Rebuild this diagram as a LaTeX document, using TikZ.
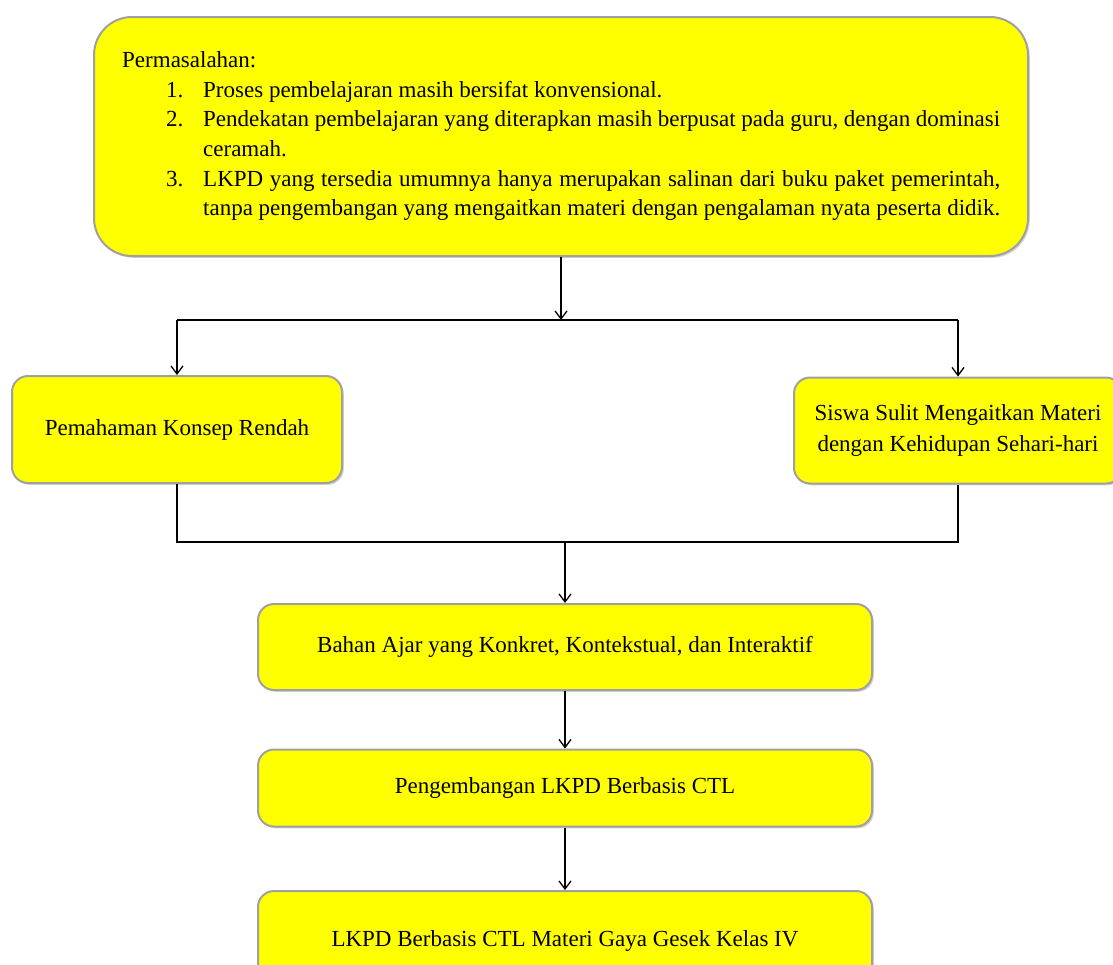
\documentclass[tikz,border=0pt]{standalone}
\usepackage{fontspec}
\setmainfont{Liberation Serif}
\usetikzlibrary{arrows.meta,shadows}
\definecolor{boxyellow}{HTML}{FFFF00}
\definecolor{boxgray}{HTML}{A0A0A0}
\begin{document}
\begin{tikzpicture}[x=1pt,y=-1pt,
  box/.style={draw=boxgray, line width=2pt, fill=boxyellow, rounded corners=16pt,
    drop shadow={shadow xshift=1.8pt, shadow yshift=-1.8pt, opacity=0.35},
    font=\fontsize{23}{31}\selectfont, align=center, inner sep=0pt, rectangle},
  txt/.style={anchor=base west, inner sep=0pt, font=\fontsize{23}{30}\selectfont},
  conn/.style={draw=black, line width=1.4pt},
  arr/.style={conn, -{Straight Barb[length=8pt, width=12pt, line width=1.3pt]}},
]
\useasboundingbox (0,0) rectangle (1113,964);
\clip (0,0) rectangle (1113,964);

% boxes
\node[box, rounded corners=38pt, minimum width=934pt, minimum height=239pt] (top) at (561,136.5) {};
\node[box, minimum width=330pt, minimum height=107pt] (left) at (177,429.5) {Pemahaman Konsep Rendah};
\node[box, minimum width=328pt, minimum height=106pt] (right) at (958,430.5) {Siswa Sulit Mengaitkan Materi\\dengan Kehidupan Sehari-hari};
\node[box, minimum width=614pt, minimum height=86pt] (bahan) at (565,647) {Bahan Ajar yang Konkret, Kontekstual, dan Interaktif};
\node[box, minimum width=614pt, minimum height=77pt] (pengembangan) at (565,788) {Pengembangan LKPD Berbasis CTL};
\node[box, minimum width=614pt, minimum height=100pt] (lkpd) at (565,941) {LKPD Berbasis CTL Materi Gaya Gesek Kelas IV};

% top box text
\node[txt] (t0) at (122,67) {Permasalahan:};
\node[txt] (n1) at (166,97) {1.};
\node[txt] (l1) at (203,97) {Proses pembelajaran masih bersifat konvensional.};
\node[txt] (n2) at (166,126) {2.};
\node[txt] (l2) at (203,126) {\makebox[797pt][s]{Pendekatan pembelajaran yang diterapkan masih berpusat pada guru, dengan dominasi}};
\node[txt] (l2b) at (203,156) {ceramah.};
\node[txt] (n3) at (166,186) {3.};
\node[txt] (l3) at (203,186) {\makebox[797pt][s]{LKPD yang tersedia umumnya hanya merupakan salinan dari buku paket pemerintah,}};
\node[txt] (l3b) at (203,215) {\makebox[797pt][s]{tanpa pengembangan yang mengaitkan materi dengan pengalaman nyata peserta didik.}};

% junction coordinates
\coordinate (j1) at (top.south |- 0,320);
\coordinate (jl) at (left.north |- 0,320);
\coordinate (jr) at (right.north |- 0,320);
\coordinate (kl) at (left.south |- 0,542);
\coordinate (kr) at (right.south |- 0,542);
\coordinate (k1) at (bahan.north |- 0,542);

% connectors
\draw[arr] (top.south) -- (j1);
\draw[conn] (jl) -- (jr);
\draw[arr] (jl) -- (left.north);
\draw[arr] (jr) -- (right.north);
\draw[conn] (left.south) -- (kl) -- (kr) -- (right.south);
\draw[arr] (k1) -- (bahan.north);
\draw[arr] (bahan.south) -- (pengembangan.north);
\draw[arr] (pengembangan.south) -- (lkpd.north);
\end{tikzpicture}
\end{document}
